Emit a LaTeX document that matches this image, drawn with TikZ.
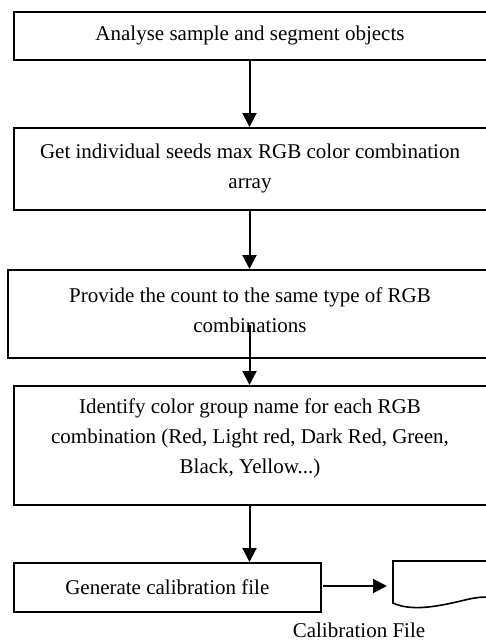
\documentclass[tikz,border=0pt]{standalone}
\usepackage{fontspec}
\setmainfont{Liberation Serif}
\usetikzlibrary{arrows.meta}
\begin{document}
\begin{tikzpicture}[x=1pt,y=-1pt,
  font=\fontsize{21}{30}\selectfont,
  stepbox/.style={draw,line width=1.6pt,rectangle,inner sep=0pt,anchor=north west},
  steptext/.style={align=center,inner sep=0pt},
  flow/.style={line width=2pt,-{Triangle[length=14pt,width=14pt]}},
]
\useasboundingbox (0,0) rectangle (486,641);

% process boxes (right edges run past the page edge)
\node[stepbox,minimum width=476pt,minimum height=48pt] (b1) at (13,11) {};
\node[stepbox,minimum width=476pt,minimum height=82pt] (b2) at (13,127) {};
\node[stepbox,minimum width=482pt,minimum height=88pt] (b3) at (7,269) {};
\node[stepbox,minimum width=476pt,minimum height=119pt] (b4) at (13,385) {};
\node[stepbox,minimum width=307pt,minimum height=49pt] (b5) at (13,562) {};

% texts
\node[steptext] (t1) at (250,35) {Analyse sample and segment objects};
\node[steptext] (t2) at (250,168) {Get individual seeds max RGB color combination\\array};
\node[steptext] (t3) at (250,310) {Provide the count to the same type of RGB\\combinations};
\node[steptext] (t4) at (250,438) {Identify color group name for each RGB\\combination (Red, Light red, Dark Red, Green,\\Black, Yellow...)};
\node[steptext] (t5) at (b5.center) {Generate calibration file};

% output document symbol
\coordinate (d1) at (393,561);
\draw[line width=1.6pt] (500,561) -- (d1) -- (393,603)
  .. controls (412,612) and (440,606) .. (465,600)
  .. controls (478,597) .. (500,597);
\node[inner sep=0pt] (doclabel) at (359,630) {Calibration File};

% connectors
\coordinate (s3) at (249.5,325);
\coordinate (a5) at (323,586);
\coordinate (e5) at (387,586);
\draw[flow] (b1.south -| s3) -- (b2.north -| s3);
\draw[flow] (b2.south -| s3) -- (b3.north -| s3);
\draw[flow] (s3) -- (b4.north -| s3);
\draw[flow] (b4.south -| s3) -- (b5.north -| s3);
\draw[flow] (a5) -- (e5);
\end{tikzpicture}
\end{document}
